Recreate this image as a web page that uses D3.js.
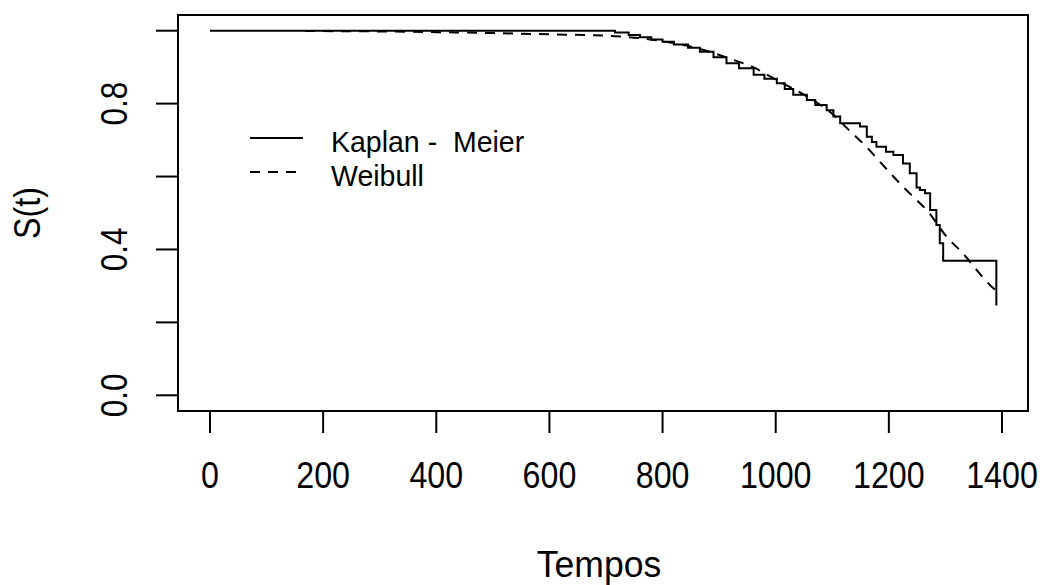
<!DOCTYPE html>
<html>
<head>
<meta charset="utf-8">
<script src="https://cdn.jsdelivr.net/npm/d3@7"></script>
<style>
  body { margin: 0; background: #fff; }
  text { font-family: "Liberation Sans", Arial, sans-serif; fill: #000; white-space: pre; }
</style>
</head>
<body>
<div id="chart"></div>
<script>
// Kaplan-Meier estimate (time, survival after the step)
const kmTimes = [0, 716, 740, 760, 780, 800, 820, 845, 866, 890, 913, 935, 961, 980, 1002, 1016,
                 1031, 1055, 1070, 1090, 1102, 1114, 1149, 1161, 1170, 1178, 1195, 1208, 1225,
                 1237, 1249, 1255, 1264, 1273, 1284, 1290, 1296, 1390];
const kmSurv = [1.0, 0.995, 0.988, 0.982, 0.976, 0.970, 0.962, 0.953, 0.942, 0.927, 0.911, 0.897,
                0.879, 0.868, 0.856, 0.840, 0.824, 0.810, 0.796, 0.782, 0.765, 0.746, 0.737, 0.709,
                0.695, 0.682, 0.668, 0.659, 0.636, 0.609, 0.570, 0.563, 0.554, 0.508, 0.467, 0.417,
                0.369, 0.246];

// fitted Weibull curve
const wbTimes = [168, 300, 400, 518, 600, 716, 800, 866, 925, 960, 1000, 1055, 1100, 1131, 1160,
                 1184, 1208, 1225, 1249, 1267, 1302, 1331, 1355, 1379, 1390];
const wbSurv = [0.999, 0.998, 0.996, 0.993, 0.990, 0.985, 0.971, 0.950, 0.920, 0.900, 0.866, 0.820,
                0.772, 0.725, 0.682, 0.641, 0.600, 0.572, 0.536, 0.508, 0.435, 0.389, 0.344, 0.302,
                0.287];

const xTicks = [0, 200, 400, 600, 800, 1000, 1200, 1400];
const yTicks = [0, 0.2, 0.4, 0.6, 0.8, 1.0];
const yTickLabels = ["0.0", "", "0.4", "", "0.8", ""];
const legendLabels = ["Kaplan -  Meier", "Weibull"];

const width = 1046, height = 585;
const box = { left: 178, right: 1028, top: 15, bottom: 411 };

const svg = d3.select("#chart").append("svg")
    .attr("width", width)
    .attr("height", height);

const x = d3.scaleLinear().domain([0, 1400]).range([210, 1002]);
const y = d3.scaleLinear().domain([0, 1]).range([395.3, 30.7]);

// plot frame
svg.append("rect")
    .attr("x", box.left).attr("y", box.top)
    .attr("width", box.right - box.left).attr("height", box.bottom - box.top)
    .attr("fill", "none").attr("stroke", "#000").attr("stroke-width", 2);

// x axis
svg.selectAll(".xtick").data(xTicks).enter().append("line")
    .attr("x1", d => x(d)).attr("x2", d => x(d))
    .attr("y1", box.bottom).attr("y2", box.bottom + 22)
    .attr("stroke", "#000").attr("stroke-width", 2);
svg.selectAll(".xlab").data(xTicks).enter().append("text")
    .attr("transform", d => `translate(${x(d)},487.5) scale(0.87,1)`)
    .attr("text-anchor", "middle").attr("font-size", 37)
    .text(d => d);

// y axis
svg.selectAll(".ytick").data(yTicks).enter().append("line")
    .attr("x1", box.left - 22).attr("x2", box.left)
    .attr("y1", d => y(d)).attr("y2", d => y(d))
    .attr("stroke", "#000").attr("stroke-width", 2);
svg.selectAll(".ylab").data(yTicks).enter().append("text")
    .attr("transform", d => `translate(127,${y(d)}) rotate(-90) scale(0.85,1)`)
    .attr("text-anchor", "middle").attr("font-size", 37)
    .text((d, i) => yTickLabels[i]);

// axis titles
svg.append("text")
    .attr("transform", "translate(599,576.5) scale(0.96,1)")
    .attr("text-anchor", "middle").attr("font-size", 37)
    .text("Tempos");
svg.append("text")
    .attr("transform", `translate(40,${(box.top + box.bottom) / 2}) rotate(-90) scale(0.87,1)`)
    .attr("text-anchor", "middle").attr("font-size", 37)
    .text("S(t)");

// curves
const km = kmTimes.map((t, i) => [t, kmSurv[i]]);
const wb = wbTimes.map((t, i) => [t, wbSurv[i]]);

svg.append("path")
    .datum(km)
    .attr("d", d3.line().x(d => x(d[0])).y(d => y(d[1])).curve(d3.curveStepAfter))
    .attr("fill", "none").attr("stroke", "#000").attr("stroke-width", 2);

svg.append("path")
    .datum(wb)
    .attr("d", d3.line().x(d => x(d[0])).y(d => y(d[1])).curve(d3.curveMonotoneX))
    .attr("fill", "none").attr("stroke", "#000").attr("stroke-width", 2)
    .attr("stroke-dasharray", "10,8");

// legend
const legend = svg.append("g");
legendLabels.forEach((lab, i) => {
    const ly = 138 + i * 34;
    legend.append("line")
        .attr("x1", 250).attr("x2", 303).attr("y1", ly).attr("y2", ly)
        .attr("stroke", "#000").attr("stroke-width", 2)
        .attr("stroke-dasharray", i === 1 ? "10,8" : null);
    legend.append("text")
        .attr("transform", `translate(331,${ly + 14}) scale(0.95,1)`)
        .attr("font-size", 30)
        .text(lab);
});
</script>
</body>
</html>
